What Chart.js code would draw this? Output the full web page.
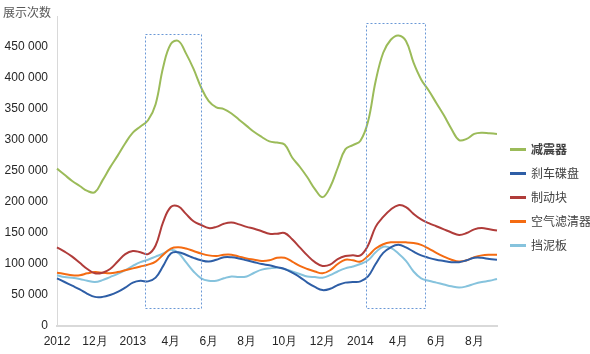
<!DOCTYPE html>
<html lang="zh">
<head>
    <meta charset="UTF-8">
    <title>展示次数</title>
    <script src="https://cdn.jsdelivr.net/npm/chart.js"></script>
    <style>
        body { margin: 0; background: #fff; font-family: "Noto Sans CJK SC", "Liberation Sans", sans-serif; }
        #wrap { position: relative; width: 590px; height: 354px; }
        #ytitle { position: absolute; left: 3px; top: 3px; font-size: 12px; color: #595959; }
        #legend { position: absolute; left: 510px; top: 140px; font-size: 12px; color: #404040; }
        #legend div { height: 24px; line-height: 18px; white-space: nowrap; }
        #legend span.sw { display: inline-block; width: 16px; height: 3px; vertical-align: middle; margin-right: 5px; margin-top: -2px; }
    </style>
</head>
<body>
<div id="wrap">
    <canvas id="myChart" width="590" height="354"></canvas>
    <div id="ytitle">展示次数</div>
    <div id="legend"></div>
</div>
<script>
    // tick labels, one every 5 points
    var tickLabels = ['2012', '12月', '2013', '4月', '6月', '8月', '10月', '12月', '2014', '4月', '6月', '8月'];
    var step = 5;
    var nPoints = 59;

    var seriesNames = ['减震器', '刹车碟盘', '制动块', '空气滤清器', '挡泥板'];
    var seriesColors = ['#9BBB59', '#2E5EA6', '#B03C3A', '#F46B12', '#86C3DD'];

    // values in thousands
    var jianzhenqi = [254, 244, 234, 226, 218, 216, 235, 256, 275, 295, 312, 322, 332, 358, 418, 455, 460, 440, 415, 385,
        363, 353, 350, 343, 333, 323, 313, 305, 298, 296, 293, 272, 257, 240, 221, 208, 224, 255, 285, 292,
        299, 330, 395, 441, 462, 469, 460, 425, 398, 380, 360, 340, 318, 300, 302, 310, 312, 311, 310];
    var shachedie = [77, 71, 65, 59, 52, 47, 47, 50, 55, 62, 70, 73, 72, 78, 97, 117, 119, 115, 110, 106,
        104, 107, 111, 111, 109, 106, 103, 100, 98, 95, 92, 86, 79, 70, 63, 58, 60, 66, 70, 71,
        72, 80, 100, 118, 127, 131, 127, 120, 114, 110, 107, 105, 103, 103, 106, 110, 110, 108, 107];
    var zhidongkuai = [127, 120, 112, 102, 92, 85, 86, 92, 104, 116, 121, 119, 116, 130, 168, 192, 193, 181, 169, 163,
        158, 160, 165, 167, 164, 160, 157, 153, 149, 149, 150, 140, 127, 114, 103, 97, 99, 108, 113, 114,
        114, 130, 160, 176, 188, 195, 192, 181, 172, 166, 161, 156, 151, 147, 150, 156, 158, 156, 154];
    var kongqilv = [86, 84, 82, 82, 85, 87, 86, 85, 87, 90, 93, 96, 99, 104, 115, 125, 127, 125, 121, 117,
        114, 113, 115, 115, 112, 109, 107, 105, 106, 110, 110, 104, 97, 92, 88, 85, 90, 100, 107, 106,
        104, 113, 125, 132, 135, 135, 135, 134, 131, 125, 118, 112, 107, 104, 106, 111, 114, 115, 115];
    var dangniban = [82, 79, 78, 76, 73, 71, 74, 79, 84, 90, 97, 103, 107, 112, 117, 123, 118, 103, 88, 77,
        73, 73, 77, 80, 79, 80, 86, 91, 93, 94, 92, 88, 84, 80, 79, 78, 82, 88, 93, 96,
        100, 106, 119, 128, 126, 117, 105, 88, 77, 73, 70, 67, 64, 62, 64, 68, 71, 73, 76];

    var allSeries = [jianzhenqi, shachedie, zhidongkuai, kongqilv, dangniban];

    // dashed highlight boxes: [fromIndex, toIndex, lowValue, highValue]
    var highlights = [[11.6, 18.95, 29000, 472000], [40.7, 48.55, 29000, 489000]];

    var labels = [];
    for (var i = 0; i < nPoints; i++) {
        labels.push(i % step === 0 && tickLabels[i / step] ? tickLabels[i / step] : '');
    }

    var datasets = allSeries.map(function(s, k) {
        return {
            label: seriesNames[k],
            data: s.map(function(v) { return v * 1000; }),
            borderColor: seriesColors[k],
            borderWidth: 2,
            pointRadius: 0,
            fill: false,
            tension: 0.4
        };
    });

    var boxPlugin = {
        id: 'boxes',
        afterDatasetsDraw: function(chart) {
            var ctx = chart.ctx, xs = chart.scales.x, ys = chart.scales.y;
            ctx.save();
            ctx.strokeStyle = '#6A98D6';
            ctx.lineWidth = 1;
            ctx.setLineDash([2, 2]);
            highlights.forEach(function(h) {
                var x1 = Math.round(xs.getPixelForValue(h[0])) + 0.5;
                var x2 = Math.round(xs.getPixelForValue(h[1])) + 0.5;
                var y1 = Math.round(ys.getPixelForValue(h[3])) + 0.5;
                var y2 = Math.round(ys.getPixelForValue(h[2])) + 0.5;
                ctx.strokeRect(x1, y1, x2 - x1, y2 - y1);
            });
            ctx.restore();
        }
    };

    var ctx = document.getElementById('myChart').getContext('2d');
    var myChart = new Chart(ctx, {
        type: 'line',
        data: { labels: labels, datasets: datasets },
        options: {
            responsive: false,
            animation: false,
            layout: { padding: { top: 15, right: 93, left: 0, bottom: 0 } },
            plugins: {
                legend: { display: false },
                tooltip: { enabled: false }
            },
            scales: {
                x: {
                    offset: false,
                    grid: { display: false, drawTicks: false },
                    border: { color: '#D9D9D9', width: 2 },
                    ticks: {
                        autoSkip: false,
                        maxRotation: 0,
                        padding: 8,
                        color: '#262626',
                        font: { family: 'Liberation Sans', size: 12 }
                    },
                    afterFit: function(scale) { scale.height = 28; }
                },
                y: {
                    min: 0,
                    max: 500000,
                    grid: { display: false, drawTicks: false },
                    border: { color: '#D9D9D9', width: 1 },
                    ticks: {
                        stepSize: 50000,
                        padding: 9,
                        color: '#262626',
                        font: { family: 'Liberation Sans', size: 12 },
                        callback: function(v) {
                            if (v >= 500000) return '';
                            if (v === 0) return '0';
                            return Math.round(v / 1000) + ' 000';
                        }
                    },
                    afterFit: function(scale) { scale.width = 57; }
                }
            }
        },
        plugins: [boxPlugin]
    });

    // legend
    var lg = document.getElementById('legend');
    seriesNames.forEach(function(name, k) {
        var row = document.createElement('div');
        var sw = document.createElement('span');
        sw.className = 'sw';
        sw.style.background = seriesColors[k];
        row.appendChild(sw);
        var t = document.createElement('span');
        t.textContent = name;
        if (k === 0) t.style.fontWeight = 'bold';
        row.appendChild(t);
        lg.appendChild(row);
    });
</script>
</body>
</html>
